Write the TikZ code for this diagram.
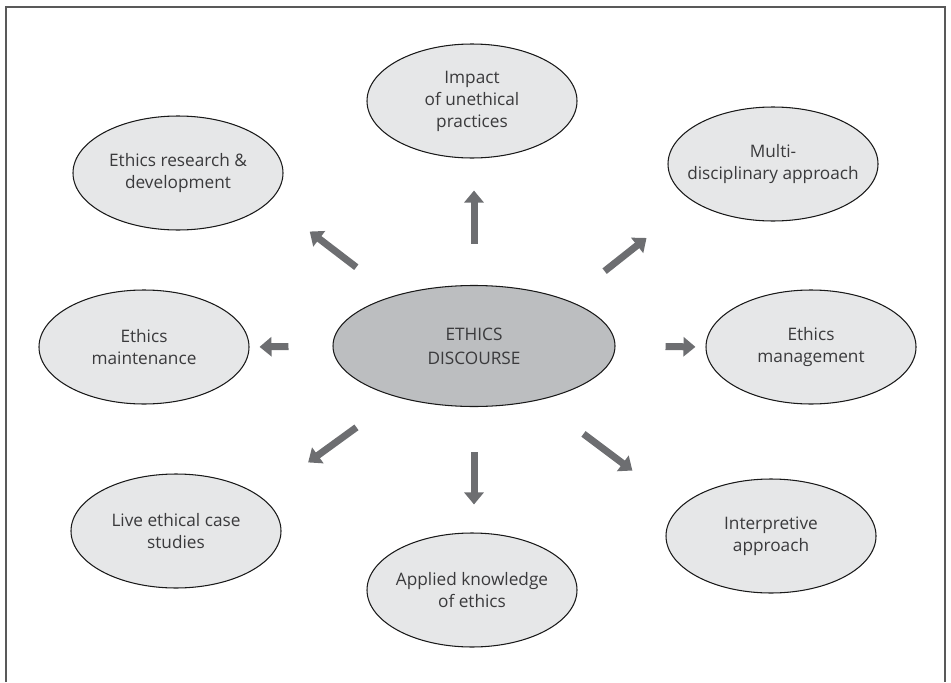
\documentclass[tikz,border=0pt]{standalone}
\usepackage{fontspec}
\setmainfont{Open Sans}
\usetikzlibrary{arrows.meta,shapes.geometric}

\definecolor{bubblegray}{HTML}{E6E7E8}
\definecolor{coregray}{HTML}{BCBEC0}
\definecolor{arrowgray}{HTML}{6D6E71}
\definecolor{inkgray}{HTML}{3A3A3C}

\begin{document}
\begin{tikzpicture}[
  bubble/.style={ellipse,draw=black!90,line width=0.6pt,fill=bubblegray,
    minimum width=4.2cm,minimum height=2.28cm,inner xsep=-1cm,inner ysep=0pt,
    align=center,text=inkgray,font=\fontsize{9.8pt}{12.5pt}\selectfont},
  hub/.style={bubble,fill=coregray,minimum width=5.64cm,minimum height=2.42cm,
    font=\fontsize{9.8pt}{13.6pt}\selectfont},
  fatarrow/.style={draw=arrowgray,line width=0.14cm,
    -{Triangle[width=0.38cm,length=0.24cm]}}]
  \useasboundingbox (0,0) rectangle (19.02,13.64);
  \draw[black!65,line width=0.03cm] (0.12,0) -- (0.12,13.5) -- (18.9,13.5) -- (18.9,0);

  \node[hub] (core) at (9.48,6.72) {ETHICS\\DISCOURSE};
  \node[bubble] (impact) at (9.44,11.62) {Impact\\of unethical\\practices};
  \node[bubble] (research) at (3.56,10.18) {Ethics research \&\\development};
  \node[bubble] (multi) at (15.46,10.36) {Multi-\\disciplinary approach};
  \node[bubble] (maint) at (2.88,6.70) {Ethics\\maintenance};
  \node[bubble] (mgmt) at (16.22,6.70) {Ethics\\management};
  \node[bubble] (live) at (3.52,3.02) {Live ethical case\\studies};
  \node[bubble] (applied) at (9.44,1.84) {Applied knowledge\\of ethics};
  \node[bubble] (interp) at (15.42,2.92) {Interpretive\\approach};

  \draw[fatarrow,shorten <=0.82cm,shorten >=0.64cm] (core.north) -- (core.north |- impact.south);
  \draw[fatarrow,shorten <=0.90cm,shorten >=0.56cm] (core.south) -- (core.south |- applied.north);
  \draw[fatarrow,shorten <=0.88cm,shorten >=0.20cm] (core.west) -- (maint.east);
  \draw[fatarrow,shorten <=1.00cm,shorten >=0.20cm] (core.east) -- (mgmt.west);
  \draw[fatarrow,shorten <=0.94cm,shorten >=1.00cm] (core.148) -- (research.-17);
  \draw[fatarrow,shorten <=0.94cm,shorten >=1.18cm] (core.26) -- (multi.205);
  \draw[fatarrow,shorten <=1.02cm,shorten >=1.17cm] (core.214) -- (live.22);
  \draw[fatarrow,shorten <=1.12cm,shorten >=1.20cm] (core.-40) -- (interp.162);
\end{tikzpicture}
\end{document}
